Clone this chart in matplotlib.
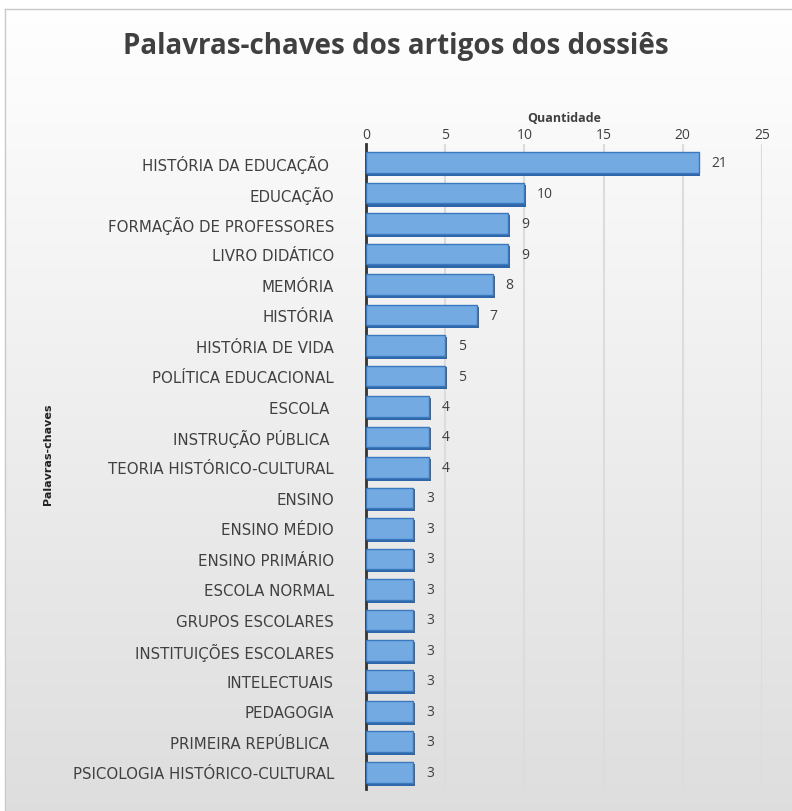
import numpy as np
import matplotlib.pyplot as plt
from matplotlib.patches import Rectangle

# dados
palavras = ['HISTÓRIA DA EDUCAÇÃO ', 'EDUCAÇÃO', 'FORMAÇÃO DE PROFESSORES', 'LIVRO DIDÁTICO',
            'MEMÓRIA', 'HISTÓRIA', 'HISTÓRIA DE VIDA', 'POLÍTICA EDUCACIONAL', 'ESCOLA ',
            'INSTRUÇÃO PÚBLICA ', 'TEORIA HISTÓRICO-CULTURAL', 'ENSINO', 'ENSINO MÉDIO',
            'ENSINO PRIMÁRIO', 'ESCOLA NORMAL', 'GRUPOS ESCOLARES', 'INSTITUIÇÕES ESCOLARES',
            'INTELECTUAIS', 'PEDAGOGIA', 'PRIMEIRA REPÚBLICA ', 'PSICOLOGIA HISTÓRICO-CULTURAL']
quantidade = [21, 10, 9, 9, 8, 7, 5, 5, 4, 4, 4, 3, 3, 3, 3, 3, 3, 3, 3, 3, 3]
xticks = [0, 5, 10, 15, 20, 25]

plt.rcParams['font.family'] = ['Open Sans', 'DejaVu Sans']

fig = plt.figure(figsize=(7.92, 8.12), dpi=100)

# fundo com gradiente
bg = fig.add_axes([0, 0, 1, 1], zorder=-10)
grad = np.linspace(1.0, 0.87, 256).reshape(-1, 1)
bg.imshow(np.dstack([grad, grad, grad]), aspect='auto', extent=[0, 1, 0, 1], origin='upper')
bg.add_patch(Rectangle((0, 0.988), 1, 0.012, color='white', zorder=2))
bg.add_patch(Rectangle((0, 0), 0.006, 1, color='white', zorder=2))
bg.plot([0.006, 1], [0.988, 0.988], color='#c8c8c8', lw=1, zorder=3)
bg.plot([0.006, 0.006], [0, 0.988], color='#c8c8c8', lw=1, zorder=3)
bg.set_xlim(0, 1)
bg.set_ylim(0, 1)
bg.axis('off')

ax = fig.add_axes([0.462, 0.027, 0.5, 0.794])
ax.patch.set_alpha(0)
y = np.arange(len(palavras))

# sombra e barra (efeito 3D)
ax.barh(y + 0.08, quantidade, height=0.72, left=0.12, color='#2f66a8', zorder=2)
ax.barh(y, quantidade, height=0.68, color='#74aae2', edgecolor='#3a78bf', lw=1.0, zorder=3)
for yi, q in zip(y, quantidade):
    ax.text(q + 0.8, yi, str(q), va='center', ha='left', fontsize=10, color='#404040')

ax.set_xlim(0, 25)
ax.set_ylim(len(palavras) - 0.45, -0.6)
ax.set_yticks(y)
ax.set_yticklabels(palavras, fontsize=10.8, color='#404040', family=['DejaVu Sans'])
ax.set_xticks(xticks)
ax.xaxis.tick_top()
ax.xaxis.set_label_position('top')
ax.tick_params(axis='x', length=0, labelsize=10, labelcolor='#404040', pad=2)
ax.tick_params(axis='y', length=0, pad=23)
ax.set_xlabel('Quantidade', fontsize=9, fontweight='bold', color='#404040', labelpad=4)
ax.grid(axis='x', color='#dcdcdc', lw=1.5, zorder=0)
for s in ['top', 'right', 'bottom']:
    ax.spines[s].set_visible(False)
ax.spines['left'].set_color('#333333')
ax.spines['left'].set_linewidth(2)

fig.text(0.5, 0.943, 'Palavras-chaves dos artigos dos dossiês', ha='center', va='center',
         fontsize=20, fontweight='bold', color='#404040')
fig.text(0.06, 0.44, 'Palavras-chaves', rotation=90, ha='center', va='center',
         fontsize=8, fontweight='bold', color='#222222', family=['Liberation Sans Narrow', 'DejaVu Sans'])

fig.savefig('out.png', dpi=100)
